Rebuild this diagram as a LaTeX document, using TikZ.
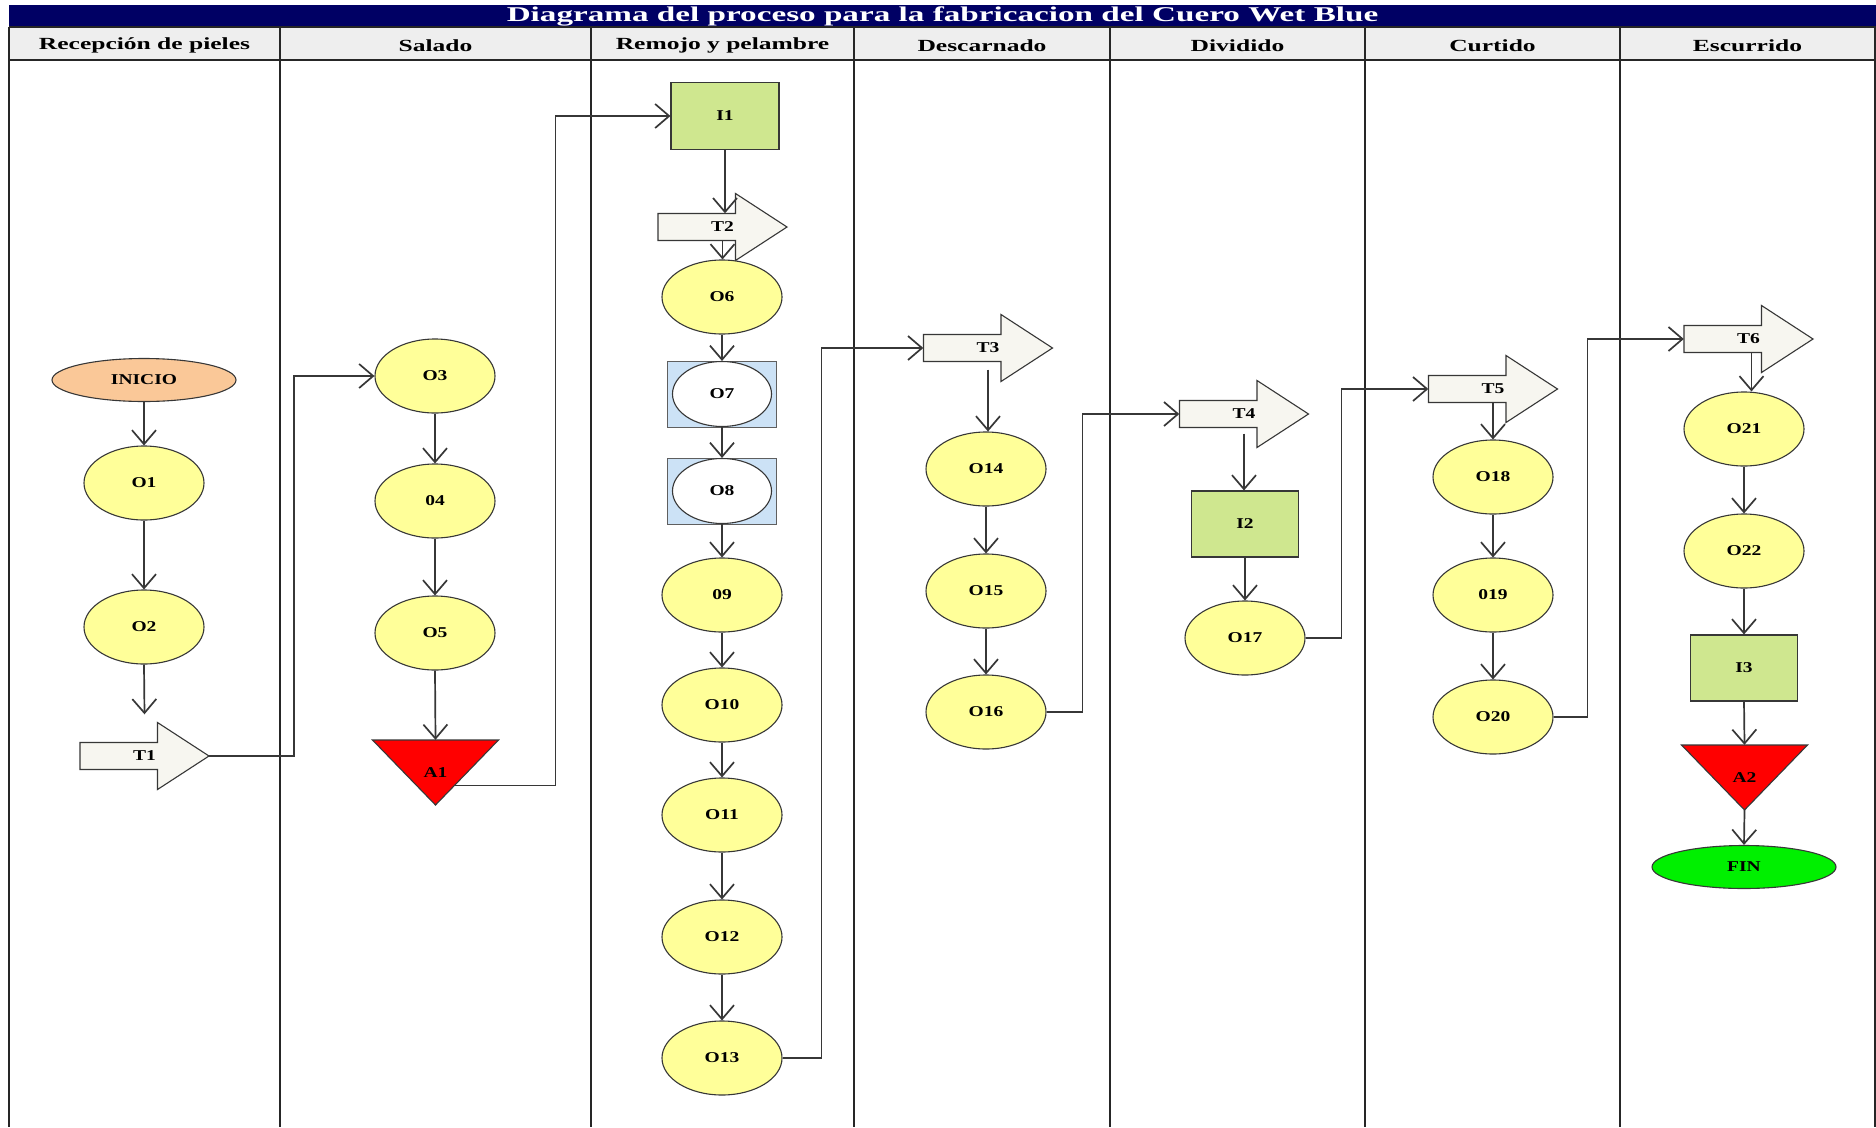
\documentclass[tikz,border=0pt]{standalone}
\usepackage{fontspec}
\usetikzlibrary{shapes.geometric,arrows.meta,calc}

\newfontfamily\titlefont[FakeStretch=1.58]{Liberation Serif Bold}
\newfontfamily\headfont[FakeStretch=1.5]{Liberation Serif Bold}
\newfontfamily\labelfont[FakeStretch=1.3]{Liberation Serif Bold}

\definecolor{navybar}{RGB}{0,0,100}
\definecolor{hdrgray}{RGB}{238,238,238}
\definecolor{opyellow}{RGB}{255,255,153}
\definecolor{peach}{RGB}{250,200,152}
\definecolor{inspgreen}{RGB}{207,231,143}
\definecolor{tfill}{RGB}{247,246,240}
\definecolor{comboblue}{RGB}{204,226,246}
\definecolor{endgreen}{RGB}{0,240,0}
\definecolor{linegray}{RGB}{55,55,55}

\tikzset{
  grid/.style={draw=black!85, line width=1.3pt},
  lbl/.style={font=\labelfont\fontsize{15}{15}\selectfont, text=black},
  op/.style={lbl, ellipse, draw=linegray, line width=1.1pt, fill=opyellow,
    minimum width=120pt, minimum height=74pt, inner sep=0pt},
  term/.style={lbl, ellipse, draw=linegray, line width=1.1pt,
    minimum width=184pt, minimum height=43pt, inner sep=0pt},
  insp/.style={lbl, rectangle, draw=linegray, line width=1.1pt, fill=inspgreen,
    minimum width=108pt, minimum height=67pt, inner sep=0pt},
  combo/.style={lbl, ellipse, draw=linegray, line width=1.1pt, fill=white,
    minimum width=99pt, minimum height=65pt, inner sep=0pt},
  comboback/.style={draw=linegray!80, line width=0.9pt, fill=comboblue},
  tshape/.style={draw=linegray, line width=1.1pt, fill=tfill, line join=miter},
  tbox/.style={lbl, rectangle, minimum width=129pt, minimum height=27pt, inner sep=0pt},
  trishape/.style={draw=linegray, line width=1.1pt, fill=red, line join=miter},
  tribox/.style={lbl, rectangle, minimum width=126pt, minimum height=65pt, inner sep=0pt},
  hdr/.style={font=\headfont\fontsize{17}{17}\selectfont, text=black},
  conn/.style={draw=linegray, line width=1.7pt,
    -{Straight Barb[length=14pt, width=24pt, line width=1.7pt]}},
}

% transport arrow: name, centre x, centre y, label
\newcommand\ptransport[4]{%
  \filldraw[tshape] (#2-64.5,#3-13.5) -- (#2+13,#3-13.5) -- (#2+13,#3-33.5)
    -- (#2+64.5,#3) -- (#2+13,#3+33.5) -- (#2+13,#3+13.5) -- (#2-64.5,#3+13.5) -- cycle;
  \node[tbox] (#1) at (#2,#3) {#4};}
% storage triangle: name, centre x, centre y, label
\newcommand\pstorage[4]{%
  \filldraw[trishape] (#2-63,#3-32.5) -- (#2+63,#3-32.5) -- (#2,#3+32.5) -- cycle;
  \node[tribox] (#1) at (#2,#3) {#4};}
% combined activity: square behind a white ellipse
\newcommand\pcombined[4]{%
  \filldraw[comboback] (#2-54.5,#3-33) rectangle (#2+54.5,#3+33);
  \node[combo] (#1) at (#2,#3) {#4};}

\begin{document}
\begin{tikzpicture}[x=1pt, y=-1pt]
\useasboundingbox (0,0) rectangle (1876,1127);
\fill[white] (0,0) rectangle (1876,1127);

% title bar and lane headers
\fill[navybar] (9,5) rectangle (1876,27);
\node[font=\titlefont\fontsize{21}{21}\selectfont, text=white] (title) at (942.5,16)
  {Diagrama del proceso para la fabricacion del Cuero Wet Blue};
\fill[hdrgray] (9,27) rectangle (1876,60);
\draw[grid] (9,27) -- (1876,27);
\draw[grid] (9,60) -- (1876,60);
\foreach \x in {9,280,591,854,1110,1365,1620,1875}
  \draw[grid] (\x,27) -- (\x,1127);

\node[hdr] (h1) at (144.5,45.5) {Recepción de pieles};
\node[hdr] (h2) at (435.5,45.5) {Salado};
\node[hdr] (h3) at (722.5,45.5) {Remojo y pelambre};
\node[hdr] (h4) at (982,45.5) {Descarnado};
\node[hdr] (h5) at (1237.5,45.5) {Dividido};
\node[hdr] (h6) at (1492.5,45.5) {Curtido};
\node[hdr] (h7) at (1747.5,45.5) {Escurrido};

% Recepción de pieles
\node[term, fill=peach] (inicio) at (144,380) {INICIO};
\node[op] (o1) at (144,483) {O1};
\node[op] (o2) at (144,627) {O2};
\ptransport{t1}{144.5}{756}{T1}

% Salado
\node[op] (o3) at (435,376) {O3};
\node[op] (o4) at (435,501) {04};
\node[op] (o5) at (435,633) {O5};
\pstorage{a1}{435.5}{772.5}{A1}

% Remojo y pelambre
\node[insp] (i1) at (725,116) {I1};
\ptransport{t2}{722.5}{227}{T2}
\node[op] (o6) at (722,297) {O6};
\pcombined{o7}{722}{394}{O7}
\pcombined{o8}{722}{491}{O8}
\node[op] (o9) at (722,595) {09};
\node[op] (o10) at (722,705) {O10};
\node[op] (o11) at (722,815) {O11};
\node[op] (o12) at (722,937) {O12};
\node[op] (o13) at (722,1058) {O13};

% Descarnado
\ptransport{t3}{988}{348}{T3}
\node[op] (o14) at (986,469) {O14};
\node[op] (o15) at (986,591) {O15};
\node[op] (o16) at (986,712) {O16};

% Dividido
\ptransport{t4}{1244}{414}{T4}
\node[insp, minimum width=107pt, minimum height=66pt] (i2) at (1245,524) {I2};
\node[op] (o17) at (1245,638) {O17};

% Curtido
\ptransport{t5}{1493}{389}{T5}
\node[op] (o18) at (1493,477) {O18};
\node[op] (o19) at (1493,595) {019};
\node[op] (o20) at (1493,717) {O20};

% Escurrido
\ptransport{t6}{1748.5}{339}{T6}
\node[op] (o21) at (1744,429) {O21};
\node[op] (o22) at (1744,551) {O22};
\node[insp, minimum width=107pt, minimum height=66pt] (i3) at (1744,668) {I3};
\pstorage{a2}{1744.5}{777.5}{A2}
\node[term, fill=endgreen] (fin) at (1744,867) {FIN};

% flow
\draw[conn] (inicio.south) -- (o1.north);
\draw[conn] (o1.south) -- (o2.north);
\draw[conn] (o2.south) -- ($(t1.north)+(0,-28)$);
\draw[conn] (t1.east) -- ++(85,0) |- (o3.west);
\draw[conn] (o3.south) -- (o4.north);
\draw[conn] (o4.south) -- (o5.north);
\draw[conn] (o5.south) -- (a1.north);
\draw[conn] ($(a1.south)!0.3!(a1.north east)$) -- ++(101,0) |- (i1.west);
\draw[conn] (i1.south) -- (i1.south |- t2.north);
\draw[conn] (t2.south) -- (t2.south |- o6.north);
\draw[conn] (o6.south) -- (o7.north);
\draw[conn] (o7.south) -- (o8.north);
\draw[conn] (o8.south) -- (o9.north);
\draw[conn] (o9.south) -- (o10.north);
\draw[conn] (o10.south) -- (o11.north);
\draw[conn] (o11.south) -- (o12.north);
\draw[conn] (o12.south) -- (o13.north);
\draw[conn] (o13.east) -- ++(39,0) |- (t3.west);
\draw[conn, shorten <=8pt] (t3.south) -- (t3.south |- o14.north);
\draw[conn] (o14.south) -- (o15.north);
\draw[conn] (o15.south) -- (o16.north);
\draw[conn] (o16.east) -- ++(36,0) |- (t4.west);
\draw[conn, shorten <=6pt] (t4.south) -- (t4.south |- i2.north);
\draw[conn] (i2.south) -- (o17.north);
\draw[conn] (o17.east) -- ++(36,0) |- (t5.west);
\draw[conn] (t5.south) -- (t5.south |- o18.north);
\draw[conn] (o18.south) -- (o19.north);
\draw[conn] (o19.south) -- (o20.north);
\draw[conn] (o20.east) -- ++(34,0) |- (t6.west);
\draw[conn] ($(t6.south)+(3,0)$) -- ($(t6.south |- o21.north)+(3,0)$);
\draw[conn] (o21.south) -- (o22.north);
\draw[conn] (o22.south) -- (i3.north);
\draw[conn] (i3.south) -- (a2.north);
\draw[conn] (a2.south) -- (fin.north);
\end{tikzpicture}
\end{document}
